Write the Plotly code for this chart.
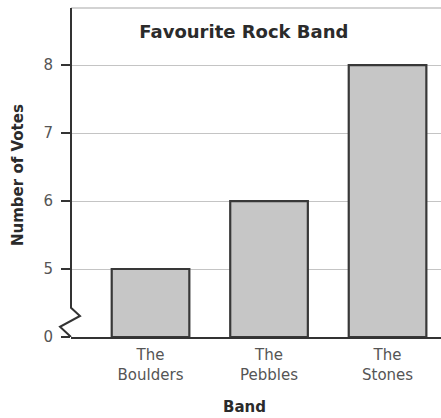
import plotly.graph_objects as go

# ---- data ----
bands = ["The<br>Boulders", "The<br>Pebbles", "The<br>Stones"]
votes = [5, 6, 8]
tick_values = [0, 5, 6, 7, 8]
break_low = 0      # axis is broken between these two values
break_high = 5

# map real values onto the broken axis (gap 0..5 drawn as one unit)
def axis_pos(v):
    return v if v <= break_low else v - (break_high - break_low) + 1

bar_pos = [axis_pos(v) for v in votes]
tick_pos = [axis_pos(v) for v in tick_values]
tick_text = [str(v) for v in tick_values]

AX = "#333333"
FONT = "DejaVu Sans"

fig = go.Figure()
fig.add_trace(go.Bar(
    x=bands, y=bar_pos, width=0.655,
    marker=dict(color="#c6c6c6", line=dict(color="#383838", width=2.2)),
    customdata=votes, hovertemplate="%{x}: %{customdata}<extra></extra>",
))

y_top = 4.84
fig.update_layout(
    width=441, height=418,
    margin=dict(l=71, r=0, t=8, b=81),
    paper_bgcolor="white", plot_bgcolor="white",
    showlegend=False,
    font=dict(family=FONT, color="#4d4d4d", size=15),
    title=dict(text="<b>Favourite Rock Band</b>", x=0.553, xref="container",
               xanchor="center", y=1 - 32 / 418, yref="container", yanchor="middle",
               font=dict(family=FONT, size=18, color="#2b2b2b")),
    xaxis=dict(range=[-0.671, 2.451], showline=True, linecolor=AX, linewidth=2,
               ticks="", showgrid=False, zeroline=False, ticklabelstandoff=3,
               tickfont=dict(family=FONT, size=15, color="#555555")),
    yaxis=dict(range=[0, y_top], tickvals=tick_pos, ticktext=tick_text,
               ticks="outside", ticklen=9, tickwidth=1.6, tickcolor=AX,
               ticklabelstandoff=5,
               showline=False, zeroline=False, showgrid=True,
               gridcolor="#c4c4c4", gridwidth=1.4,
               tickfont=dict(family=FONT, size=15, color="#555555")),
)

# top border
fig.add_shape(type="line", xref="paper", yref="paper", x0=0, x1=1, y0=1, y1=1,
              line=dict(color="#c4c4c4", width=1.5))
# broken y-axis line with zigzag
fig.add_shape(type="path", xref="paper", yref="y",
              path=f"M 0 {y_top} L 0 0.43 L 0.0243 0.31 L -0.0297 0.15 L 0 0",
              line=dict(color=AX, width=2))

# axis titles
fig.add_annotation(text="<b>Band</b>", xref="paper", yref="paper",
                   x=(244.5 - 71) / 370, y=-70 / 329, showarrow=False,
                   xanchor="center", yanchor="middle",
                   font=dict(family=FONT, size=15, color="#2b2b2b"))
fig.add_annotation(text="<b>Number of Votes</b>", xref="paper", yref="paper",
                   x=(18 - 71) / 370, y=(337 - 175) / 329, textangle=-90,
                   showarrow=False, xanchor="center", yanchor="middle",
                   font=dict(family=FONT, size=15, color="#2b2b2b"))

fig.write_html("out.html")
